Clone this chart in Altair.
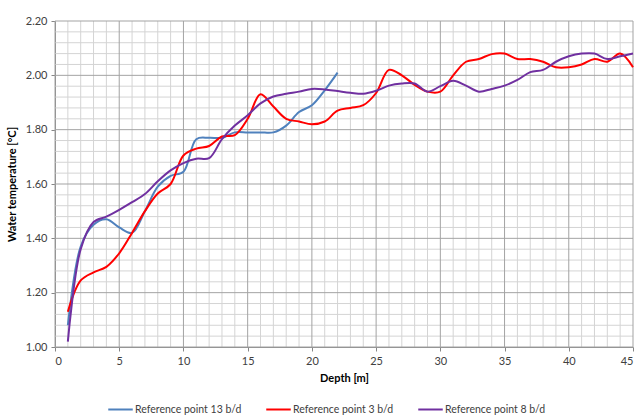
import altair as alt
import pandas as pd

# Water temperature profiles at three reference points
depth_13 = list(range(1, 23))
temp_13 = [1.08, 1.37, 1.45, 1.47, 1.44, 1.42, 1.50, 1.59, 1.63, 1.645,
           1.765, 1.77, 1.77, 1.79, 1.79, 1.79, 1.79, 1.815, 1.865, 1.89,
           1.945, 2.01]

depth_3 = list(range(1, 46))
temp_3 = [1.13, 1.245, 1.275, 1.295, 1.345, 1.42, 1.50, 1.565, 1.60, 1.705,
          1.73, 1.74, 1.775, 1.78, 1.84, 1.93, 1.885, 1.84, 1.83, 1.82,
          1.83, 1.87, 1.88, 1.89, 1.935, 2.02, 2.00, 1.965, 1.94, 1.94,
          2.00, 2.05, 2.06, 2.078, 2.08, 2.06, 2.06, 2.05, 2.03, 2.03,
          2.04, 2.06, 2.05, 2.08, 2.03]

depth_8 = list(range(1, 46))
temp_8 = [1.02, 1.36, 1.46, 1.48, 1.505, 1.533, 1.563, 1.61, 1.65, 1.677,
          1.693, 1.695, 1.765, 1.815, 1.853, 1.897, 1.922, 1.932, 1.94, 1.95,
          1.948, 1.942, 1.936, 1.932, 1.943, 1.962, 1.97, 1.97, 1.94, 1.96,
          1.98, 1.962, 1.94, 1.95, 1.962, 1.983, 2.012, 2.02, 2.05, 2.07,
          2.08, 2.08, 2.06, 2.07, 2.08]

series_names = ["Reference point 13 b/d", "Reference point 3 b/d", "Reference point 8 b/d"]
series_colors = ["#4f81bd", "#ff0000", "#7030a0"]

# Axis ticks and grid positions
x_major = list(range(0, 46, 5))
x_minor = [d for d in range(0, 46) if d % 5]
y_major = [round(1.0 + 0.2 * i, 2) for i in range(7)]
y_minor = [round(1.0 + 0.04 * i, 2) for i in range(31) if i % 5]

frames = []
for name, d, t in zip(series_names, [depth_13, depth_3, depth_8], [temp_13, temp_3, temp_8]):
    frames.append(pd.DataFrame({"depth": d, "temp": t, "series": name}))
data = pd.concat(frames, ignore_index=True)

FONT = "Lato"
x_scale = alt.Scale(domain=[0, 45], nice=False, zero=False)
y_scale = alt.Scale(domain=[1.0, 2.2], nice=False, zero=False)

minor_x = alt.Chart(pd.DataFrame({"x": x_minor})).mark_rule(
    color="#d4d4d4", strokeWidth=1).encode(x=alt.X("x:Q", scale=x_scale))
minor_y = alt.Chart(pd.DataFrame({"y": y_minor})).mark_rule(
    color="#d4d4d4", strokeWidth=1).encode(y=alt.Y("y:Q", scale=y_scale))
major_x = alt.Chart(pd.DataFrame({"x": x_major})).mark_rule(
    color="#a3a3a3", strokeWidth=1).encode(x=alt.X("x:Q", scale=x_scale))
major_y = alt.Chart(pd.DataFrame({"y": y_major})).mark_rule(
    color="#a3a3a3", strokeWidth=1).encode(y=alt.Y("y:Q", scale=y_scale))

lines = alt.Chart(data).mark_line(strokeWidth=2, interpolate="catmull-rom").encode(
    x=alt.X("depth:Q", scale=x_scale,
            axis=alt.Axis(values=x_major, title="Depth [m]", format="d")),
    y=alt.Y("temp:Q", scale=y_scale,
            axis=alt.Axis(values=y_major, title="Water temperature [°C]", format=".2f")),
    color=alt.Color("series:N",
                    scale=alt.Scale(domain=series_names, range=series_colors),
                    sort=series_names,
                    legend=alt.Legend(title=None, orient="none", direction="horizontal",
                                      legendX=52, legendY=375, symbolType="stroke",
                                      symbolSize=600, symbolStrokeWidth=2,
                                      labelOffset=1, columnPadding=20)),
    detail="series:N",
)

chart = alt.layer(minor_x, minor_y, major_x, major_y, lines).properties(
    width=578, height=326,
    padding={"left": 55, "top": 21, "right": 5, "bottom": 69},
    autosize=alt.AutoSizeParams(type="none"),
).configure_view(stroke=None).configure_axis(
    grid=False,
    domainColor="#868686",
    tickColor="#868686",
    tickSize=4,
    labelFont=FONT,
    labelFontSize=11,
    labelColor="#404040",
    labelPadding=4,
    titleFont=FONT,
    titleFontSize=11,
    titleFontWeight="bold",
    titleColor="#000000",
).configure_axisY(titlePadding=8).configure_axisX(titlePadding=6).configure_legend(
    labelFont=FONT, labelFontSize=10.5, labelColor="#404040",
)

chart.save("out.html", embed_options={"renderer": "svg", "actions": False})
